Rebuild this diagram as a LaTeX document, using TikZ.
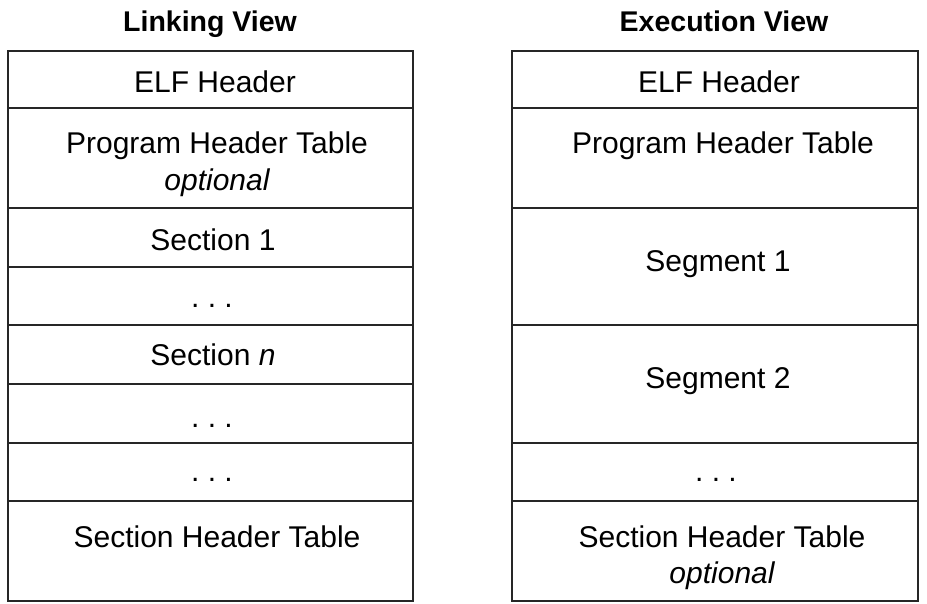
\documentclass[tikz,border=0pt]{standalone}
\usepackage{fontspec}
\setmainfont{Liberation Sans}
\begin{document}
\begin{tikzpicture}[x=1pt,y=-1pt,
  cell/.style={draw=black!85,line width=1.6pt,inner sep=0pt,outer sep=0pt,minimum width=#1},
  lcell/.style={cell=405pt},
  rcell/.style={cell=406pt},
  lbl/.style={anchor=base,inner sep=0pt,font=\fontsize{30}{34}\selectfont},
  ttl/.style={anchor=base,inner sep=0pt,font=\fontsize{28.5}{32}\selectfont\bfseries}]
\useasboundingbox (0,0) rectangle (927,603);
% Left (Linking View) cells
\node[lcell,minimum height=57pt] (L1) at (210.5,79.5) {};
\node[lcell,minimum height=100pt] (L2) at (210.5,158) {};
\node[lcell,minimum height=59pt] (L3) at (210.5,237.5) {};
\node[lcell,minimum height=58pt] (L4) at (210.5,296) {};
\node[lcell,minimum height=59pt] (L5) at (210.5,354.5) {};
\node[lcell,minimum height=59pt] (L6) at (210.5,413.5) {};
\node[lcell,minimum height=58pt] (L7) at (210.5,472) {};
\node[lcell,minimum height=100pt] (L8) at (210.5,551) {};
% Right (Execution View) cells
\node[rcell,minimum height=57pt] (R1) at (715,79.5) {};
\node[rcell,minimum height=100pt] (R2) at (715,158) {};
\node[rcell,minimum height=117pt] (R3) at (715,266.5) {};
\node[rcell,minimum height=118pt] (R4) at (715,384) {};
\node[rcell,minimum height=58pt] (R5) at (715,472) {};
\node[rcell,minimum height=100pt] (R6) at (715,551) {};
% Titles
\node[ttl] (tl) at (210,31) {Linking View};
\node[ttl] (tr) at (724,31) {Execution View};
% Left texts
\node[lbl] (lt1) at (215,92) {ELF Header};
\node[lbl] (lt2) at (217,153) {Program Header Table};
\node[lbl] (lt2b) at (217,190) {\itshape optional};
\node[lbl] (lt3) at (213,250) {Section 1};
\node[lbl] (lt4) at (212,307) {.\ .\ .};
\node[lbl] (lt5) at (213,365) {Section \itshape n};
\node[lbl] (lt6) at (212,427) {.\ .\ .};
\node[lbl] (lt7) at (212,481) {.\ .\ .};
\node[lbl] (lt8) at (217,547) {Section Header Table};
% Right texts
\node[lbl] (rt1) at (719,92) {ELF Header};
\node[lbl] (rt2) at (723,153) {Program Header Table};
\node[lbl] (rt3) at (718,271) {Segment 1};
\node[lbl] (rt4) at (718,388) {Segment 2};
\node[lbl] (rt5) at (716,481) {.\ .\ .};
\node[lbl] (rt6) at (722,547) {Section Header Table};
\node[lbl] (rt6b) at (722,583) {\itshape optional};
\end{tikzpicture}
\end{document}
